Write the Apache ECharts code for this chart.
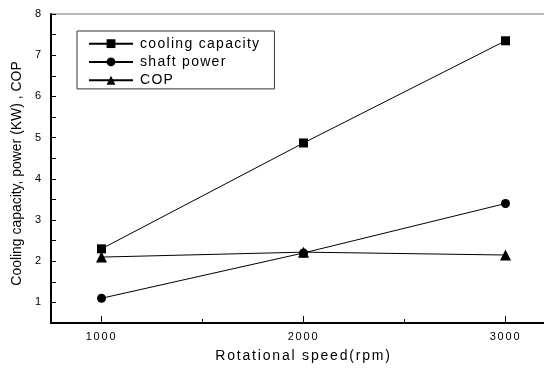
<!DOCTYPE html>
<html><head><meta charset="utf-8">
<script src="https://cdn.jsdelivr.net/npm/echarts@6/dist/echarts.min.js"></script>
<style>html,body{margin:0;padding:0;background:#fff}#c{width:544px;height:368px}</style>
</head><body><div id="c"></div>
<script>
const speeds = [1000, 2000, 3000];
const coolingCapacity = [2.3, 4.87, 7.35];
const shaftPower = [1.1, 2.2, 3.4];
const cop = [2.1, 2.22, 2.15];
const seriesNames = ['cooling capacity', 'shaft power', 'COP'];
const xMajorTicks = [1000, 2000, 3000];
const xMinorTicks = [1500, 2500];

// letter spacing emulation for the spaced-out lettering of the original
const SPACING = {'14px Liberation Sans': 1.3, '14px Arial': 1.8, '11px Arial': 1.8};
(function () {
  const P = CanvasRenderingContext2D.prototype;
  const spacingFor = f => {
    const m = /(\d+(?:\.\d+)?)px\s+(.*)$/.exec(f || '');
    if (!m) return 0;
    const fam = m[2].split(',')[0].replace(/['"]/g, '').trim();
    return SPACING[m[1] + 'px ' + fam] || 0;
  };
  ['fillText', 'strokeText', 'measureText'].forEach(k => {
    const orig = P[k];
    P[k] = function () {
      if ('letterSpacing' in this) this.letterSpacing = spacingFor(this.font) + 'px';
      return orig.apply(this, arguments);
    };
  });
})();

const chart = echarts.init(document.getElementById('c'), null, {renderer: 'canvas'});
function mk(name, vals, symbol, size) {
  return {
    name, type: 'line', data: speeds.map((s, i) => [s, vals[i]]),
    symbol, symbolSize: size, showSymbol: true,
    lineStyle: {color: '#000', width: 1},
    itemStyle: {color: '#000'},
    z: 5
  };
}
chart.setOption({
  animation: false,
  backgroundColor: '#fff',
  grid: {left: 51, top: 14, width: 505, bottom: 45, outerBoundsMode: 'none', containLabel: false,
    show: true, borderColor: '#777', borderWidth: 1},
  legend: {
    orient: 'vertical', left: 77, top: 31,
    data: seriesNames,
    borderColor: '#333', borderWidth: 1, borderRadius: 0,
    padding: [5, 14, 1, 11],
    itemWidth: 44, itemHeight: 11, itemGap: 3,
    textStyle: {fontFamily: 'Liberation Sans', fontSize: 14, color: '#000', padding: [0, 0, 0, 2]}
  },
  xAxis: [{
    type: 'value', min: 750, max: 3250,
    name: 'Rotational speed(rpm)', nameLocation: 'middle', nameGap: 22,
    nameTextStyle: {fontFamily: 'Arial', fontSize: 14, color: '#000'},
    axisLine: {lineStyle: {color: '#000', width: 2}},
    axisTick: {inside: true, length: 7, customValues: xMajorTicks, lineStyle: {color: '#000', width: 1}},
    axisLabel: {customValues: xMajorTicks, fontFamily: 'Arial', fontSize: 11, color: '#000', margin: 8,
      formatter: v => String(v)},
    splitLine: {show: false}
  }, {
    type: 'value', min: 750, max: 3250, position: 'bottom',
    axisLine: {show: false},
    axisTick: {inside: true, length: 4, customValues: xMinorTicks, lineStyle: {color: '#000', width: 1}},
    axisLabel: {show: false},
    splitLine: {show: false}
  }],
  yAxis: {
    type: 'value', min: 0.5, max: 8, interval: 0.5,
    name: 'Cooling capacity, power (KW) , COP', nameLocation: 'middle', nameGap: 27,
    nameTextStyle: {fontFamily: 'Liberation Sans', fontSize: 13.95, color: '#000', padding: [0, 10, 0, 0]},
    axisLine: {lineStyle: {color: '#000', width: 2}},
    axisTick: {inside: true, length: 5, lineStyle: {color: '#000', width: 1}},
    axisLabel: {fontFamily: 'Arial', fontSize: 11, color: '#000', margin: 8,
      formatter: v => (Math.abs(v - Math.round(v)) < 1e-6 ? String(Math.round(v)) : '')},
    splitLine: {show: false}
  },
  series: [
    mk(seriesNames[0], coolingCapacity, 'rect', 9),
    mk(seriesNames[1], shaftPower, 'circle', 9),
    mk(seriesNames[2], cop, 'triangle', 11)
  ]
});
</script></body></html>
